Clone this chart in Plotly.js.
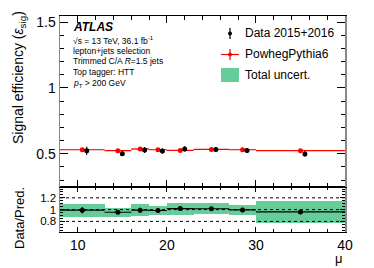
<!DOCTYPE html>
<html><head><meta charset="utf-8">
<script src="https://cdn.plot.ly/plotly-3.0.1.min.js"></script>
<style>html,body{margin:0;padding:0;background:#fff}#g{width:374px;height:268px}</style>
</head><body><div id="g"></div>
<script>
// ---- data ----
const binLo = [8, 13, 16, 18, 20, 23, 27, 30];
const binHi = [13, 16, 18, 20, 23, 27, 30, 40];
const mcEff = [0.530, 0.523, 0.536, 0.530, 0.525, 0.533, 0.530, 0.523];
const mcErr = [0.004, 0.004, 0.005, 0.004, 0.004, 0.005, 0.005, 0.003];
const dataEff = [0.523, 0.500, 0.528, 0.520, 0.536, 0.533, 0.525, 0.498];
const dataErr = [0.030, 0.016, 0.023, 0.020, 0.020, 0.018, 0.019, 0.020];
const ratio = [0.990, 0.955, 0.990, 0.985, 1.017, 1.015, 0.995, 0.960];
const ratioErr = [0.055, 0.030, 0.042, 0.038, 0.038, 0.034, 0.036, 0.038];
const totUnc = [0.111, 0.080, 0.100, 0.083, 0.103, 0.089, 0.089, 0.186];
const xTicks = [10, 20, 30, 40];
const legendLabels = ['Data 2015+2016', 'PowhegPythia6', 'Total uncert.'];
const infoLines = ['√s = 13 TeV, 36.1 fb<sup>-1</sup>', 'lepton+jets selection',
  'Trimmed C/A <i>R</i>=1.5 jets', 'Top tagger: HTT', '<i>p</i><sub>T</sub> > 200 GeV'];

const centers = binLo.map((l, i) => (l + binHi[i]) / 2);
const widths = binLo.map((l, i) => binHi[i] - l);
const halfW = widths.map(w => w / 2);
const dataX = centers.map(c => c + 0.5);

const W = 374, H = 268, mL = 60, mR = 29, mT = 16, mB = 36;
const px = x => (x - mL) / (W - mL - mR);
const py = y => (H - mB - y) / (H - mT - mB);
const FONT = '"Liberation Sans", Arial, Helvetica, sans-serif';
const green = 'rgb(102,204,153)';

const traces = [
  {type: 'bar', x: centers, y: mcErr.map(e => 2 * e), base: mcEff.map((m, i) => m - mcErr[i]),
   width: widths, marker: {color: 'rgba(255,90,90,0.55)', line: {width: 0}},
   xaxis: 'x2', yaxis: 'y2', hoverinfo: 'skip'},
  {type: 'scatter', mode: 'markers', x: centers, y: mcEff, xaxis: 'x2', yaxis: 'y2',
   marker: {color: 'rgb(255,0,0)', size: 5, symbol: 'circle'},
   error_x: {type: 'data', array: halfW, color: 'rgb(255,0,0)', thickness: 1.2, width: 0}},
  {type: 'scatter', mode: 'markers', x: dataX, y: dataEff, xaxis: 'x2', yaxis: 'y2',
   marker: {color: '#000', size: 5},
   error_y: {type: 'data', array: dataErr, color: '#000', thickness: 1.2, width: 0}},
  {type: 'bar', x: centers, y: totUnc.map(u => 2 * u), base: ratio.map((r, i) => r - totUnc[i]),
   width: widths, marker: {color: green, line: {width: 0}}, xaxis: 'x', yaxis: 'y', hoverinfo: 'skip'},
  {type: 'scatter', mode: 'markers', x: centers, y: ratio, xaxis: 'x', yaxis: 'y',
   marker: {color: '#000', size: 5},
   error_x: {type: 'data', array: halfW, color: '#000', thickness: 1.2, width: 0},
   error_y: {type: 'data', array: ratioErr, color: '#000', thickness: 1.2, width: 0}}
];

const split = 0.21;
const axFont = {family: FONT, size: 14, color: '#000'};
const layout = {
  width: W, height: H, margin: {l: mL, r: mR, t: mT, b: mB},
  paper_bgcolor: '#fff', plot_bgcolor: '#fff', showlegend: false, barmode: 'overlay', bargap: 0,
  font: {family: FONT, color: '#000'},
  xaxis: {domain: [0, 1], anchor: 'y', range: [8, 40], tickvals: xTicks, ticks: 'inside', ticklen: 5,
    tickcolor: '#000', showline: true, linecolor: '#000', linewidth: 1, mirror: 'allticks',
    showgrid: false, zeroline: false, tickfont: axFont,
    minor: {dtick: 2, ticks: 'inside', ticklen: 3, tickcolor: '#000', showgrid: false}},
  yaxis: {domain: [0, split], anchor: 'x', range: [0.62, 1.39], tickvals: [0.8, 1, 1.2], ticktext: ['0.8', '1', '1.2'],
    ticks: 'inside', ticklen: 5, tickcolor: '#000', showline: true, linecolor: '#888', linewidth: 1.5,
    mirror: 'allticks', showgrid: false, zeroline: false, tickfont: {family: FONT, size: 11.5, color: '#000'},
    minor: {dtick: 0.05, ticks: 'inside', ticklen: 3, tickcolor: '#000', showgrid: false}},
  xaxis2: {domain: [0, 1], anchor: 'y2', matches: 'x', range: [8, 40], tickvals: xTicks, ticks: 'inside', ticklen: 7,
    tickcolor: '#000', showline: true, linecolor: '#000', linewidth: 1, mirror: 'allticks',
    showticklabels: false, showgrid: false, zeroline: false,
    minor: {dtick: 2, ticks: 'inside', ticklen: 4, tickcolor: '#000', showgrid: false}},
  yaxis2: {domain: [split, 1], anchor: 'x2', range: [0.25, 1.546], tickvals: [0.5, 1, 1.5], ticktext: ['0.5', '1', '1.5'],
    ticks: 'inside', ticklen: 8, tickcolor: '#000', showline: true, linecolor: '#888', linewidth: 1.5,
    mirror: 'allticks', showgrid: false, zeroline: false, tickfont: axFont,
    minor: {dtick: 0.1, ticks: 'inside', ticklen: 4, tickcolor: '#000', showgrid: false}},
  shapes: [],
  annotations: []
};

[0.8, 1, 1.2].forEach(v => layout.shapes.push({type: 'line', xref: 'x', yref: 'y', x0: 8, x1: 40, y0: v, y1: v,
  line: {color: '#000', width: 1, dash: 'dot'}, layer: 'above'}));

layout.shapes.push(
  {type: 'line', xref: 'paper', yref: 'paper', x0: px(230), x1: px(230), y0: py(28), y1: py(39), line: {color: '#000', width: 1.2}},
  {type: 'circle', xref: 'paper', yref: 'paper', x0: px(228), x1: px(232), y0: py(31.5), y1: py(35.5), fillcolor: '#000', line: {width: 0}},
  {type: 'line', xref: 'paper', yref: 'paper', x0: px(221), x1: px(239), y0: py(54.5), y1: py(54.5), line: {color: 'rgb(255,0,0)', width: 1.2}},
  {type: 'line', xref: 'paper', yref: 'paper', x0: px(230), x1: px(230), y0: py(49), y1: py(60), line: {color: 'rgb(255,0,0)', width: 1.2}},
  {type: 'circle', xref: 'paper', yref: 'paper', x0: px(228), x1: px(232), y0: py(52.5), y1: py(56.5), fillcolor: 'rgb(255,0,0)', line: {width: 0}},
  {type: 'rect', xref: 'paper', yref: 'paper', x0: px(221), x1: px(239), y0: py(68), y1: py(82), fillcolor: green, line: {width: 0}}
);
const legY = [33.5, 54.5, 75];
legendLabels.forEach((t, i) => layout.annotations.push({xref: 'paper', yref: 'paper', x: px(243), y: py(legY[i]),
  xanchor: 'left', yanchor: 'middle', text: t, showarrow: false, font: {family: FONT, size: 12, color: '#000'}}));

layout.annotations.push({xref: 'paper', yref: 'paper', x: px(71), y: py(26.5), xanchor: 'left', yanchor: 'middle',
  text: '<b><i>ATLAS</i></b>', showarrow: false, font: {family: FONT, size: 12, color: '#000'}});
const infoY = [40, 50.5, 61, 71.5, 84];
infoLines.forEach((t, i) => layout.annotations.push({xref: 'paper', yref: 'paper', x: px(71), y: py(infoY[i]),
  xanchor: 'left', yanchor: 'middle', text: t, showarrow: false, font: {family: FONT, size: 8.5, color: '#000'}}));

layout.annotations.push(
  {xref: 'paper', yref: 'paper', x: px(19), y: py(78), xanchor: 'center', yanchor: 'middle', textangle: -90,
   text: 'Signal efficiency (<i>ε</i><sub>sig</sub>)', showarrow: false, font: {family: FONT, size: 14, color: '#000'}},
  {xref: 'paper', yref: 'paper', x: px(19), y: py(218), xanchor: 'center', yanchor: 'middle', textangle: -90,
   text: 'Data/Pred.', showarrow: false, font: {family: FONT, size: 13, color: '#000'}},
  {xref: 'paper', yref: 'paper', x: px(345), y: py(258), xanchor: 'right', yanchor: 'middle',
   text: 'μ', showarrow: false, font: {family: FONT, size: 13, color: '#000'}}
);

Plotly.newPlot('g', traces, layout, {staticPlot: true, displayModeBar: false});
</script></body></html>
